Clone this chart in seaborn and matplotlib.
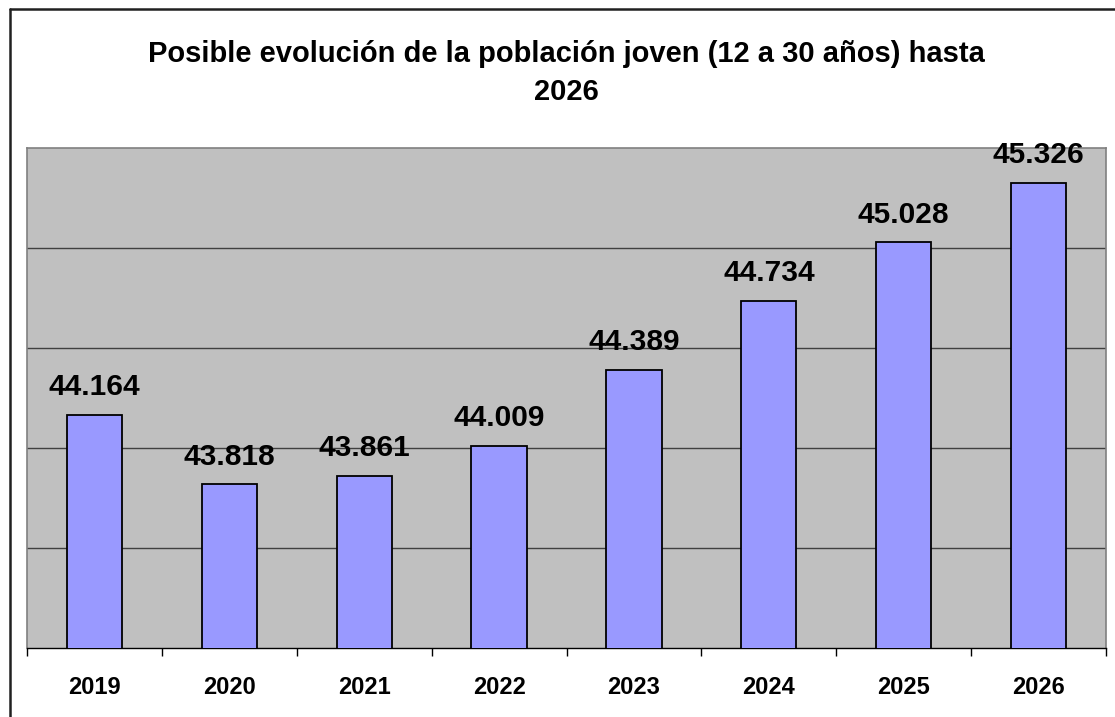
import numpy as np
import pandas as pd
import matplotlib
matplotlib.use('Agg')
import matplotlib.pyplot as plt
import seaborn as sns
from matplotlib.lines import Line2D

# ── Data ─────────────────────────────────────────────────────
years  = ['2019', '2020', '2021', '2022', '2023', '2024', '2025', '2026']
values = [44.164, 43.818, 43.861, 44.009, 44.389, 44.734, 45.028, 45.326]
labels = ['44.164', '43.818', '43.861', '44.009', '44.389', '44.734', '45.028', '45.326']
y_grid = [43.5, 44.0, 44.5, 45.0]

# ── Palette ──────────────────────────────────────────────────
PLOT_BG = '#C0C0C0'
BAR     = '#9999FF'
GRID    = '#404040'
FRAME   = '#808080'

sns.set_theme(style='white')
plt.rcParams['font.family'] = ['Liberation Sans', 'DejaVu Sans']

df = pd.DataFrame({'year': years, 'value': values})

fig = plt.figure(figsize=(11.15, 7.17), dpi=100, facecolor='white')
ax = fig.add_axes([27/1115, 1 - 648/717, (1106 - 27)/1115, 500/717])
ax.set_facecolor(PLOT_BG)

sns.barplot(data=df, x='year', y='value', order=years, color=BAR,
            edgecolor='black', linewidth=1.3, width=0.41, saturation=1,
            ax=ax, zorder=3)

ax.set_ylim(43.0, 45.5)
ax.set_xlim(-0.5, len(years) - 0.5)
ax.set_yticks(y_grid)
ax.set_yticklabels([])
ax.tick_params(axis='y', length=0)
for g in y_grid:
    ax.axhline(g, color=GRID, linewidth=1.0, zorder=1)

# category boundaries as ticks on the x axis
ax.set_xticks(np.arange(len(years)))
ax.set_xticklabels(years, fontsize=17, fontweight='bold', color='black')
ax.set_xticks(np.arange(len(years) + 1) - 0.5, minor=True)
ax.tick_params(axis='x', which='major', length=0, pad=20)
ax.tick_params(axis='x', which='minor', length=6, width=1.0, color='black', direction='out', bottom=True)
ax.set_xlabel(''); ax.set_ylabel('')

for side in ['left', 'top', 'right']:
    ax.spines[side].set_edgecolor(FRAME)
    ax.spines[side].set_linewidth(1.2)
ax.spines['bottom'].set_edgecolor('black')
ax.spines['bottom'].set_linewidth(1.0)

for i, (v, lab) in enumerate(zip(values, labels)):
    ax.annotate(lab, (i, v), xytext=(0, 10), textcoords='offset points',
                ha='center', va='bottom', fontsize=21.5, fontweight='bold',
                color='black', annotation_clip=False, zorder=4)

fig.text(566/1115, 1 - 73/717,
         'Posible evolución de la población joven (12 a 30 años) hasta\n2026',
         ha='center', va='center', fontsize=21, fontweight='bold',
         color='black', linespacing=1.5)

# outer chart frame (left and top edges visible)
fig.add_artist(Line2D([9.5/1115, 9.5/1115], [0, 1 - 9/717], transform=fig.transFigure,
                      color='#202020', linewidth=1.8))
fig.add_artist(Line2D([9.5/1115, 1], [1 - 9/717, 1 - 9/717], transform=fig.transFigure,
                      color='#202020', linewidth=1.8))

fig.savefig('out.png', dpi=100, facecolor='white')
